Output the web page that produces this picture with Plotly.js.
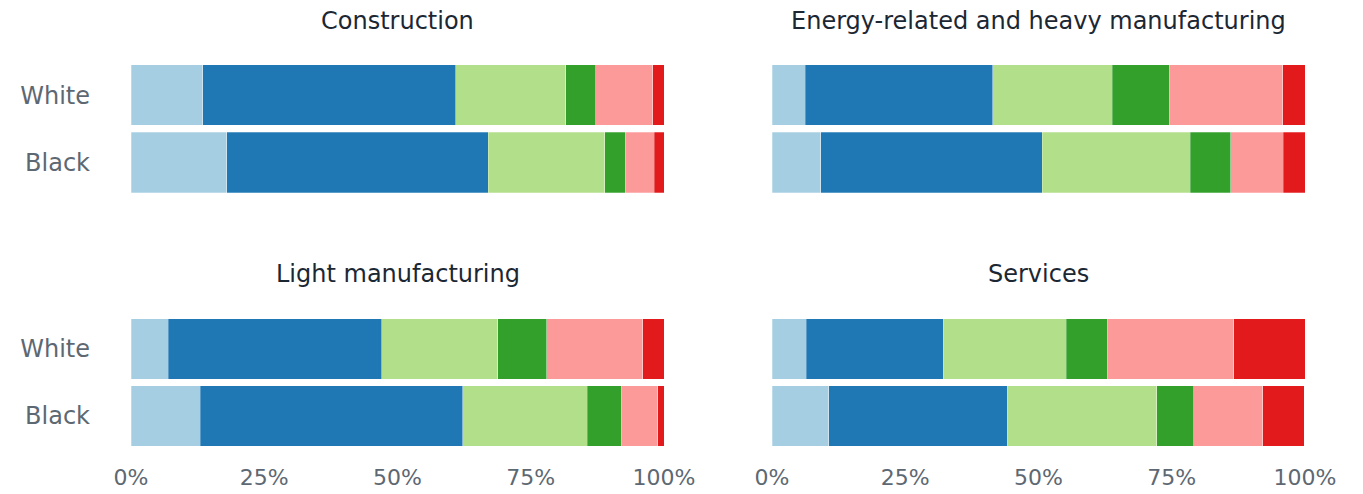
<!DOCTYPE html>
<html>
<head>
<meta charset="utf-8">
<script src="https://cdn.plot.ly/plotly-3.0.1.min.js"></script>
<style>html,body{margin:0;padding:0;background:#fff;}#chart{width:1363px;height:494px;}</style>
</head>
<body>
<div id="chart"></div>
<script>
const groups = ["White", "Black"];
const sectors = ["Construction", "Energy-related and heavy manufacturing", "Light manufacturing", "Services"];
const segmentColors = ["#a6cee3", "#1f78b4", "#b2df8a", "#33a02c", "#fb9a99", "#e31a1c"];
const tickValues = [0, 0.25, 0.5, 0.75, 1];
const tickLabels = ["0%", "25%", "50%", "75%", "100%"];

// shares per segment (6 segments), [White, Black]
const construction = [
  [0.135, 0.180], [0.474, 0.490], [0.207, 0.219], [0.056, 0.038], [0.107, 0.055], [0.021, 0.018]
];
const energyHeavy = [
  [0.062, 0.091], [0.352, 0.416], [0.224, 0.278], [0.107, 0.076], [0.213, 0.098], [0.042, 0.041]
];
const lightManufacturing = [
  [0.070, 0.130], [0.400, 0.492], [0.218, 0.234], [0.092, 0.064], [0.180, 0.068], [0.040, 0.012]
];
const services = [
  [0.064, 0.106], [0.257, 0.335], [0.231, 0.281], [0.077, 0.069], [0.237, 0.130], [0.135, 0.078]
];

const panels = [construction, energyHeavy, lightManufacturing, services];
const W = 1363, H = 494;
const xDomains = [[131 / W, 664 / W], [772 / W, 1305 / W]];
const yDomains = [[1 - 196 / H, 1 - 61.5 / H], [1 - 449.5 / H, 1 - 315.5 / H]];
const titleY = [1 - 21 / H, 1 - 274 / H];

const traces = [];
panels.forEach((panel, p) => {
  const ax = p === 0 ? "" : String(p + 1);
  panel.forEach((seg, s) => {
    traces.push({
      type: "bar",
      orientation: "h",
      y: groups,
      x: seg,
      xaxis: "x" + ax,
      yaxis: "y" + ax,
      marker: { color: segmentColors[s], line: { width: 0.6, color: "rgba(255,255,255,0.45)" } },
      showlegend: false,
      hoverinfo: "x+y"
    });
  });
});

const layout = {
  width: W, height: H,
  margin: { l: 0, r: 0, t: 0, b: 0 },
  barmode: "stack",
  bargap: 0.1,
  paper_bgcolor: "#ffffff",
  plot_bgcolor: "#ffffff",
  font: { family: "DejaVu Sans, sans-serif", color: "#5d6872" },
  annotations: []
};

panels.forEach((panel, p) => {
  const ax = p === 0 ? "" : String(p + 1);
  const col = p % 2, row = Math.floor(p / 2);
  layout["xaxis" + ax] = {
    domain: xDomains[col],
    anchor: "y" + ax,
    range: [0, 1],
    tickvals: tickValues,
    ticktext: tickLabels,
    showticklabels: row === 1,
    showgrid: false, zeroline: false, showline: false,
    ticks: "",
    ticklabelstandoff: 12,
    tickfont: { size: 22, color: "#5d6872" },
    fixedrange: true
  };
  layout["yaxis" + ax] = {
    domain: yDomains[row],
    anchor: "x" + ax,
    type: "category",
    categoryorder: "array",
    categoryarray: ["Black", "White"],
    range: [-0.5, 1.5],
    showticklabels: col === 0,
    showgrid: false, zeroline: false, showline: false,
    ticks: "",
    ticklabelstandoff: 40,
    tickfont: { size: 24, color: "#5d6872" },
    fixedrange: true
  };
  layout.annotations.push({
    text: sectors[p],
    xref: "paper", yref: "paper",
    x: (xDomains[col][0] + xDomains[col][1]) / 2,
    y: titleY[row],
    xanchor: "center", yanchor: "middle",
    showarrow: false,
    font: { size: 24, color: "#1c2734", family: "DejaVu Sans, sans-serif" }
  });
});

Plotly.newPlot("chart", traces, layout, { displayModeBar: false, staticPlot: true });
</script>
</body>
</html>
